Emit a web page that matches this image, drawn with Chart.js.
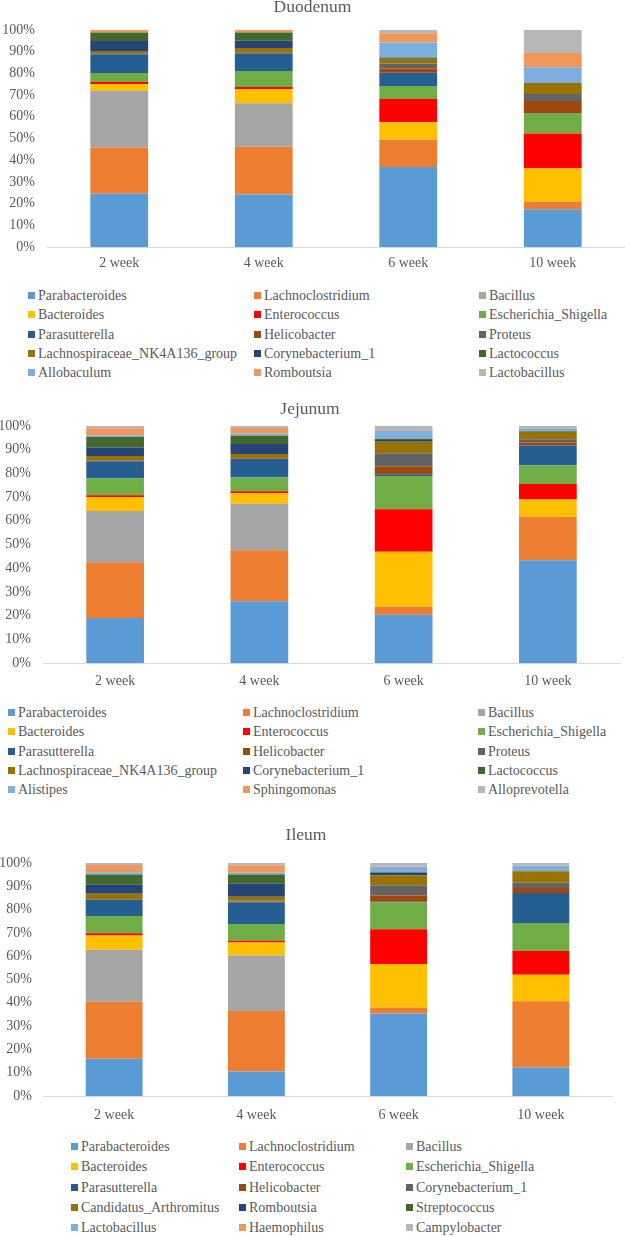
<!DOCTYPE html>
<html>
<head>
<meta charset="utf-8">
<script src="https://cdn.jsdelivr.net/npm/chart.js@4"></script>
<style>
  body { margin: 0; background: #fff; }
  #pagina { position: relative; width: 625px; height: 1237px; overflow: hidden; }
  canvas { position: absolute; left: 0; }
  .item { position: absolute; font: 14px 'Liberation Serif', 'Times New Roman', serif; color: #595959; line-height: 18px; white-space: nowrap; }
  .item span { display: inline-block; width: 7px; height: 7px; margin-right: 3px; vertical-align: 1px; }
</style>
</head>
<body>
<div id="pagina">
  <canvas id="duodeno" width="625" height="285" style="top:0px"></canvas>
  <canvas id="jejuno" width="625" height="300" style="top:395px"></canvas>
  <canvas id="ileo" width="625" height="320" style="top:815px"></canvas>
</div>
<script>
// categorias (eixo x)
const semanas = ['2 week', '4 week', '6 week', '10 week'];

// duodeno
const duodenoGeneros = ['Parabacteroides', 'Lachnoclostridium', 'Bacillus', 'Bacteroides', 'Enterococcus', 'Escherichia_Shigella',
  'Parasutterella', 'Helicobacter', 'Proteus', 'Lachnospiraceae_NK4A136_group', 'Corynebacterium_1', 'Lactococcus',
  'Allobaculum', 'Romboutsia', 'Lactobacillus'];
const duodenoValores = [
  [24.6, 24.2, 36.9, 17.4],
  [21.2, 22.0, 12.5, 3.5],
  [26.2, 20.1, 0, 0],
  [3.1, 6.5, 8.1, 15.4],
  [0.9, 0.9, 10.7, 16.0],
  [4.2, 7.4, 6.0, 9.1],
  [8.6, 8.0, 6.1, 0.2],
  [0.3, 0.4, 2.0, 5.7],
  [0.3, 0.4, 2.3, 3.2],
  [0.9, 1.8, 2.2, 5.1],
  [4.6, 3.4, 0.3, 0],
  [3.9, 3.7, 0.2, 0],
  [0.2, 0.3, 6.9, 7.2],
  [1.0, 0.9, 4.3, 6.6],
  [0, 0, 1.5, 10.6]
];

// jejuno
const jejunoGeneros = ['Parabacteroides', 'Lachnoclostridium', 'Bacillus', 'Bacteroides', 'Enterococcus', 'Escherichia_Shigella',
  'Parasutterella', 'Helicobacter', 'Proteus', 'Lachnospiraceae_NK4A136_group', 'Corynebacterium_1', 'Lactococcus',
  'Alistipes', 'Sphingomonas', 'Alloprevotella'];
const jejunoValores = [
  [19.0, 26.1, 20.4, 43.4],
  [23.5, 21.5, 3.3, 18.3],
  [21.6, 19.6, 0, 0],
  [5.9, 4.5, 23.2, 7.3],
  [0.8, 0.8, 18.0, 6.5],
  [7.2, 5.8, 14.0, 7.9],
  [7.1, 7.8, 0.7, 8.4],
  [0.3, 0.2, 3.2, 1.2],
  [0.3, 0.2, 5.7, 1.4],
  [1.6, 1.7, 4.9, 3.2],
  [3.5, 4.2, 0.7, 0.2],
  [4.6, 3.5, 0.5, 0.2],
  [0.7, 0.9, 3.4, 1.0],
  [2.9, 2.4, 0.3, 0.2],
  [1.0, 0.8, 1.7, 0.8]
];

// ileo
const ileoGeneros = ['Parabacteroides', 'Lachnoclostridium', 'Bacillus', 'Bacteroides', 'Enterococcus', 'Escherichia_Shigella',
  'Parasutterella', 'Helicobacter', 'Corynebacterium_1', 'Candidatus_Arthromitus', 'Romboutsia', 'Streptococcus',
  'Lactobacillus', 'Haemophilus', 'Campylobacter'];
const ileoValores = [
  [16.0, 10.5, 35.4, 12.2],
  [24.5, 26.0, 2.6, 28.5],
  [22.3, 23.8, 0, 0],
  [6.1, 5.6, 18.7, 11.3],
  [0.9, 0.7, 14.9, 10.2],
  [7.4, 7.2, 11.4, 12.0],
  [7.0, 9.4, 0.4, 12.9],
  [0.2, 0.3, 2.7, 2.2],
  [0.2, 0.3, 4.4, 2.2],
  [2.2, 1.7, 4.2, 4.8],
  [3.9, 5.6, 1.0, 0.2],
  [4.4, 4.0, 0.3, 0.2],
  [0.9, 0.7, 2.4, 2.1],
  [3.1, 3.2, 0.2, 0.1],
  [0.9, 1.0, 1.4, 1.1]
];

// paleta do excel (mesma ordem nos tres graficos)
const cores = ['#5b9bd5', '#ed7d31', '#a5a5a5', '#ffc000', '#ff0000', '#70ad47', '#255e91', '#9e480e',
  '#636363', '#997300', '#264478', '#43682b', '#7cafdd', '#f1975a', '#b7b7b7'];

const corTexto = '#595959';
const fonte = "'Liberation Serif', 'Times New Roman', serif";

function criarGrafico(cfg) {
  // monta um grafico de barras empilhadas 100%
  const datasets = cfg.generos.map((nome, i) => ({
    label: nome,
    data: cfg.valores[i],
    backgroundColor: cores[i],
    borderWidth: 0,
    barPercentage: 0.4,
    categoryPercentage: 1
  }));

  new Chart(document.getElementById(cfg.id), {
    type: 'bar',
    data: { labels: semanas, datasets },
    options: {
      responsive: false,
      animation: false,
      layout: { padding: { left: 0, right: cfg.direita, top: 0, bottom: 0 } },
      plugins: {
        legend: { display: false },
        tooltip: { enabled: false },
        title: {
          display: true,
          text: cfg.titulo,
          color: corTexto,
          font: { family: fonte, size: 17.5, weight: 'normal', lineHeight: 0.8 },
          padding: { top: cfg.tituloTopo, bottom: cfg.tituloBaixo }
        }
      },
      scales: {
        x: {
          stacked: true,
          grid: { display: false, drawTicks: false },
          border: { color: '#d9d9d9', width: 1 },
          ticks: { color: corTexto, font: { family: fonte, size: 14 }, padding: cfg.xPad },
          afterFit: s => { s.height = cfg.xAltura; }
        },
        y: {
          stacked: true,
          min: 0,
          max: 100,
          grid: { display: false, drawTicks: false },
          border: { display: false },
          ticks: { stepSize: 10, color: corTexto, font: { family: fonte, size: 14 }, padding: cfg.yPad, callback: v => v + '%' },
          afterFit: s => { s.width = cfg.esquerda; }
        }
      }
    }
  });

  // legenda em 3 colunas (html)
  const pagina = document.getElementById('pagina');
  cfg.generos.forEach((nome, i) => {
    const item = document.createElement('div');
    item.className = 'item';
    item.style.left = cfg.colunas[i % 3] + 'px';
    item.style.top = (cfg.linha0 + Math.floor(i / 3) * cfg.passo - 9) + 'px';
    item.innerHTML = '<span style="background:' + cores[i] + '"></span>' + nome;
    pagina.appendChild(item);
  });
}

criarGrafico({
  id: 'duodeno', titulo: 'Duodenum', generos: duodenoGeneros, valores: duodenoValores,
  esquerda: 47, direita: 0, yPad: 12, tituloTopo: 0, tituloBaixo: 16, xPad: 8, xAltura: 38,
  colunas: [28, 254, 479], linha0: 296, passo: 19.25
});
criarGrafico({
  id: 'jejuno', titulo: 'Jejunum', generos: jejunoGeneros, valores: jejunoValores,
  esquerda: 43, direita: 5, yPad: 12, tituloTopo: 7, tituloBaixo: 10, xPad: 10, xAltura: 32,
  colunas: [8, 243, 478], linha0: 713, passo: 19.25
});
criarGrafico({
  id: 'ileo', titulo: 'Ileum', generos: ileoGeneros, valores: ileoValores,
  esquerda: 43, direita: 13, yPad: 11, tituloTopo: 13, tituloBaixo: 21, xPad: 11, xAltura: 39,
  colunas: [71, 239, 406], linha0: 1147, passo: 20.25
});
</script>
</body>
</html>
